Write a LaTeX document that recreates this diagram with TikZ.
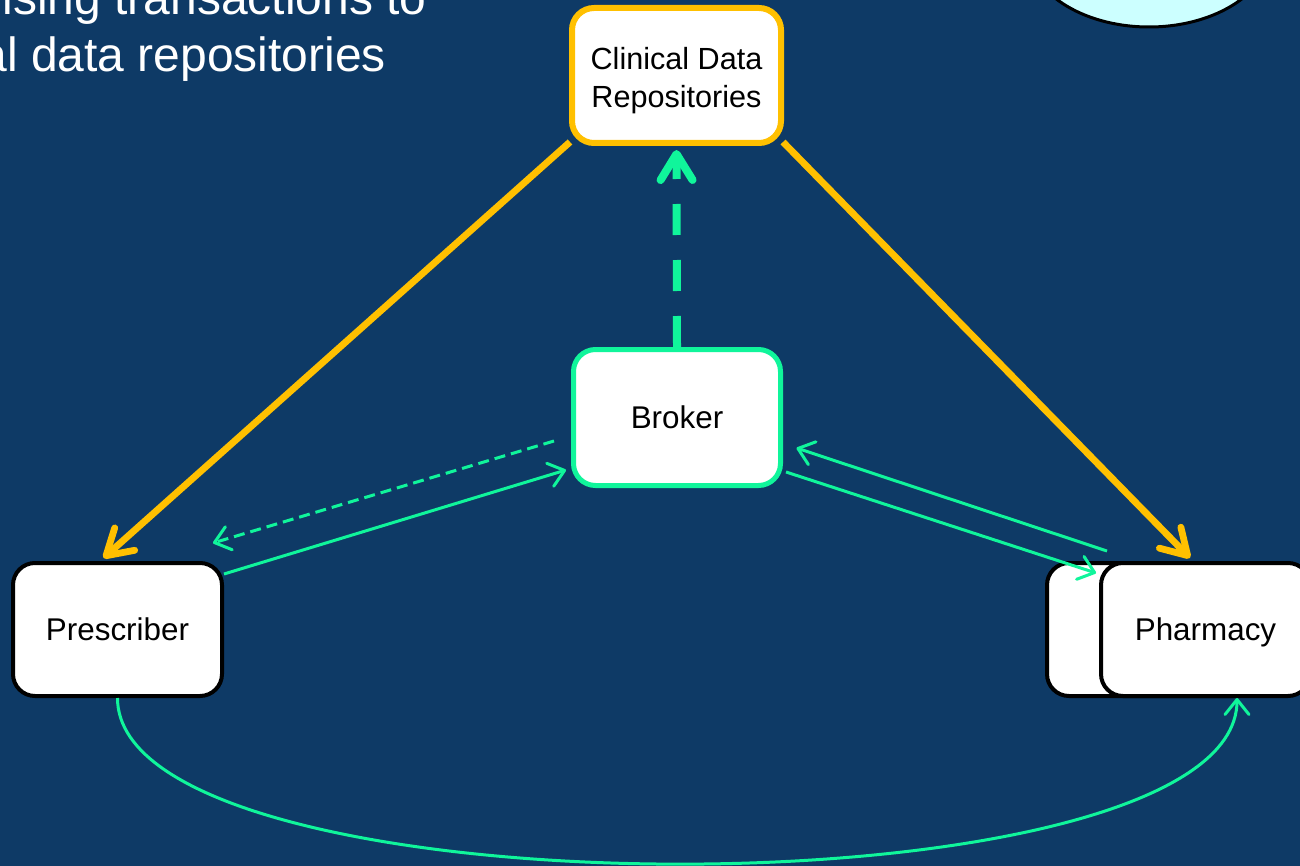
\documentclass[tikz,border=0pt]{standalone}
\usepackage{fontspec}
\setmainfont{Liberation Sans}
\usetikzlibrary{arrows.meta}
\definecolor{bg}{RGB}{14,58,102}
\definecolor{grn}{RGB}{16,245,155}
\definecolor{org}{RGB}{255,192,0}
\definecolor{lcyan}{RGB}{204,255,255}
\begin{document}
\begin{tikzpicture}[x=0.5pt,y=-0.5pt,
  box/.style={draw, fill=white, rounded corners=11pt, align=center, text=black,
    font=\fontsize{15.7}{19}\selectfont, inner sep=0pt},
  oneline/.style={text height=14pt, text depth=2.8pt},
  title/.style={anchor=base west, text=white, font=\fontsize{24}{28}\selectfont, inner sep=0pt},
  orangearrow/.style={draw=org, line width=3.4pt, -{Straight Barb[round,length=12.5pt,width=15pt]}},
  greenarrow/.style={draw=grn, line width=1.5pt, -{Straight Barb[round,length=7.5pt,width=12pt]}},
  greendash/.style={greenarrow, dash pattern=on 5.5pt off 3pt},
  bigdash/.style={draw=grn, line width=4pt, dash pattern=on 15.5pt off 12.5pt,
    -{Straight Barb[round,length=13pt,width=16pt]}}
]
\useasboundingbox (0,0) rectangle (1300,866);
\clip (0,0) rectangle (1300,866);
\fill[bg] (0,0) rectangle (1300,866);

% partial ellipse at top right
\filldraw[fill=lcyan, draw=black, line width=1.5pt] (1149,-53) ellipse [x radius=61pt, y radius=40pt];

% title text
\node[title] (t1) at (2,15) {ising transactions to};
\node[title] (t2) at (-20,72) {al data repositories};

% nodes
\node[box, draw=org, line width=3pt, minimum width=104.5pt, minimum height=67.5pt,
  font=\fontsize{15.3}{19}\selectfont] (cdr) at (676.5,75.5) {\rule{0pt}{16.5pt}Clinical Data\\Repositories};
\node[box, oneline, draw=grn, line width=2.5pt, minimum width=103.5pt, minimum height=68pt] (broker) at (677,417.5) {Broker};
\node[box, oneline, line width=2pt, minimum width=104.5pt, minimum height=66.5pt] (pres) at (117.5,629.5) {Prescriber};
\node[box, oneline, line width=2pt, minimum width=104.5pt, minimum height=66.5pt] (pharmb) at (1151.5,629.5) {};
\node[box, oneline, line width=2pt, minimum width=104.5pt, minimum height=66.5pt] (pharm) at (1205.5,629.5) {Pharmacy};

% connectors
\draw[orangearrow] ([xshift=0.5pt,yshift=2pt]cdr.south west) -- ([xshift=-7pt,yshift=1.5pt]pres.north);
\draw[orangearrow] ([xshift=-0.5pt,yshift=2pt]cdr.south east) -- ([xshift=-7.75pt,yshift=1.5pt]pharm.north);
\draw[bigdash] (broker.north) -- ([yshift=-2pt]cdr.south);
\draw[greendash] ([xshift=-8.5pt,yshift=-11.75pt]broker.west) -- ([xshift=-5.5pt,yshift=9pt]pres.north east);
\draw[greenarrow] ([yshift=-6.5pt]pres.north east) -- ([xshift=-2.5pt,yshift=-26.25pt]broker.west);
\draw[greenarrow] ([xshift=1.5pt,yshift=-27.25pt]broker.east) -- ([xshift=25.5pt,yshift=-6pt]pharmb.north west);
\draw[greenarrow] ([xshift=4pt,yshift=5pt]pharm.north west) -- ([xshift=6.75pt,yshift=-15.25pt]broker.east);
\draw[greenarrow] (pres.south) .. controls ([yshift=-110.5pt]pres.south) and ([xshift=15.75pt,yshift=-110.5pt]pharm.south) .. ([xshift=15.75pt]pharm.south);
\end{tikzpicture}
\end{document}
